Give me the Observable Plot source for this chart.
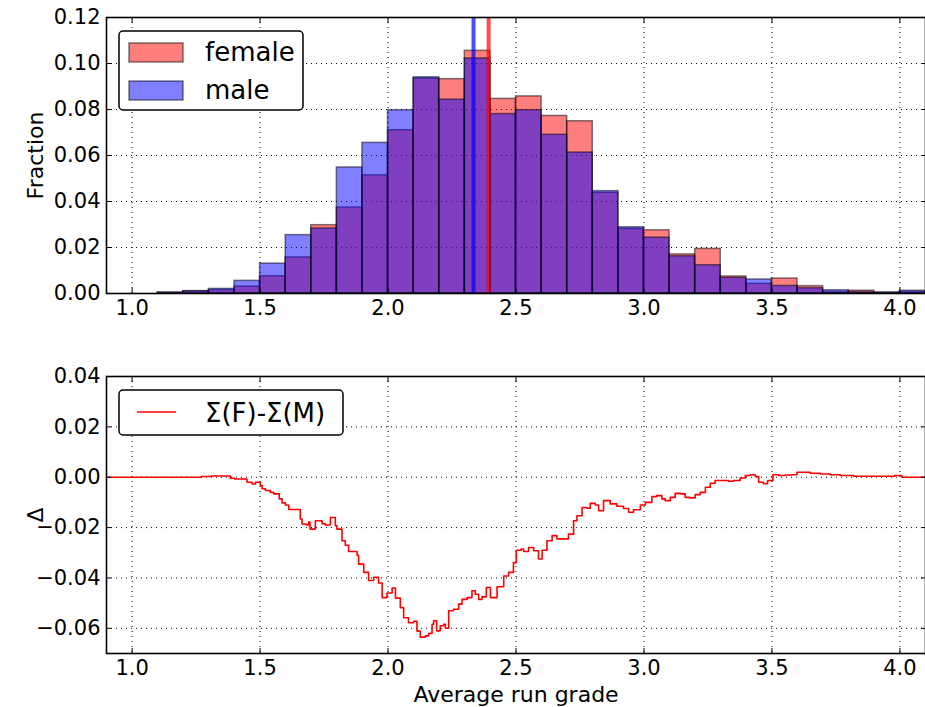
<!DOCTYPE html>
<html><head><meta charset="utf-8">
<script src="https://cdn.jsdelivr.net/npm/d3@7"></script>
<script src="https://cdn.jsdelivr.net/npm/@observablehq/plot@0.6"></script>
<style>
body{margin:0;background:#fff;font-family:"DejaVu Sans",sans-serif;}
#fig{position:relative;width:925px;height:707px;overflow:hidden;background:#fff;}
#fig svg.plot{display:block;}
#fig svg.plot g[aria-label$="axis label"] text{font-size:22px;}
.leg{position:absolute;overflow:visible;}
</style></head><body><div id="fig"></div><script>
// ---- data ----
const binStart = [1.1,1.2,1.3,1.4,1.5,1.6,1.7,1.8,1.9,2.0,2.1,2.2,2.3,2.4,2.5,2.6,2.7,2.8,2.9,3.0,3.1,3.2,3.3,3.4,3.5,3.6,3.7,3.8,3.9,4.0];
const binWidth = 0.1;
const female = [0.0004,0.001,0.0015,0.003,0.0075,0.0157,0.0297,0.0374,0.0514,0.071,0.0935,0.0932,0.1055,0.0846,0.0857,0.0772,0.0749,0.0438,0.0281,0.0275,0.017,0.0194,0.0074,0.0042,0.0065,0.0032,0.0006,0.0012,0.0004,0.0006];
const male   = [0.0004,0.001,0.002,0.0055,0.013,0.0254,0.0283,0.0548,0.0655,0.0797,0.094,0.0843,0.1022,0.078,0.0797,0.069,0.0613,0.0445,0.0288,0.0243,0.0162,0.0123,0.0068,0.0061,0.0033,0.0023,0.0014,0.0006,0.0004,0.0012];
const meanFemale = 2.393;
const meanMale = 2.334;
const gradeX = [0.9,1.27,1.31,1.384,1.40,1.449,1.469,1.482,1.501,1.508,1.521,1.54,1.553,1.575,1.586,1.599,1.612,1.657,1.664,1.681,1.69,1.695,1.716,1.742,1.755,1.775,1.794,1.80,1.82,1.833,1.846,1.879,1.885,1.905,1.924,1.944,1.963,1.977,1.996,2.016,2.029,2.048,2.061,2.08,2.10,2.113,2.126,2.146,2.159,2.172,2.178,2.19,2.204,2.217,2.224,2.237,2.256,2.276,2.289,2.309,2.328,2.341,2.354,2.367,2.384,2.40,2.426,2.452,2.471,2.49,2.501,2.52,2.53,2.549,2.569,2.588,2.602,2.621,2.641,2.66,2.686,2.705,2.725,2.738,2.758,2.777,2.79,2.81,2.823,2.842,2.868,2.894,2.92,2.94,2.959,2.986,3.005,3.031,3.05,3.07,3.083,3.103,3.122,3.142,3.161,3.18,3.2,3.22,3.24,3.259,3.278,3.305,3.33,3.35,3.376,3.396,3.415,3.435,3.448,3.467,3.483,3.504,3.526,3.552,3.578,3.598,3.63,3.65,3.689,3.728,3.767,3.819,3.897,3.98,4.008,4.1];
const delta = [0,0.0003,0.0005,-0.0004,-0.0007,-0.002,-0.0027,-0.002,-0.0033,-0.0046,-0.0053,-0.006,-0.0066,-0.0086,-0.0102,-0.011,-0.0128,-0.0166,-0.0186,-0.019,-0.0178,-0.0206,-0.0173,-0.0185,-0.019,-0.016,-0.0192,-0.0206,-0.0252,-0.027,-0.0295,-0.031,-0.0345,-0.0378,-0.041,-0.0397,-0.042,-0.0478,-0.046,-0.044,-0.048,-0.0518,-0.0558,-0.0578,-0.0572,-0.0611,-0.0635,-0.063,-0.062,-0.0584,-0.057,-0.061,-0.059,-0.0584,-0.060,-0.053,-0.0524,-0.0504,-0.0485,-0.0478,-0.0451,-0.0465,-0.0485,-0.0475,-0.0438,-0.0478,-0.0435,-0.0392,-0.0378,-0.0339,-0.029,-0.0285,-0.0295,-0.0279,-0.0292,-0.0325,-0.029,-0.0252,-0.0232,-0.0245,-0.0245,-0.0226,-0.0173,-0.0153,-0.012,-0.0123,-0.0104,-0.011,-0.0133,-0.0093,-0.0106,-0.0115,-0.0124,-0.0139,-0.0129,-0.011,-0.010,-0.0077,-0.0073,-0.0086,-0.0093,-0.008,-0.0064,-0.0066,-0.008,-0.0082,-0.0069,-0.006,-0.004,-0.0024,-0.0013,-0.0013,-0.0016,-0.0013,-0.0003,0.0007,0.001,0.0003,-0.002,-0.0026,-0.0013,0.001,0.0007,0.0009,0.001,0.002,0.002,0.0016,0.0013,0.001,0.0007,0.0004,0.0004,0.0007,0,-0.0002];
const xTicks = [1.0,1.5,2.0,2.5,3.0,3.5,4.0];
const fracTicks = [0,0.02,0.04,0.06,0.08,0.10,0.12];
const deltaTicks = [-0.06,-0.04,-0.02,0,0.02,0.04];
const xDomain = [0.9,4.1];

// ---- build ----
const rows = binStart.map((b,i)=>({x1:b, x2:b+binWidth, f:female[i], m:male[i]}));
const line = gradeX.map((x,i)=>({x, d:delta[i]}));
const f1 = d3.format(".1f"), f2 = d3.format(".2f");
const none = () => "";
const grid = {stroke:"#000", strokeOpacity:1, strokeWidth:1, strokeDasharray:"1,4"};
const style = {fontFamily:"'DejaVu Sans', sans-serif", fontSize:"21px", background:"white", overflow:"visible", color:"#000"};

function frameAxes(yTicks, yFmt, yLabel, xLabel, yLabelOffset) {
  return [
    Plot.axisX({ticks:xTicks, tickFormat:f1, tickSize:-5, tickPadding:12, label: xLabel, labelAnchor:"center", labelArrow:"none", labelOffset:48, stroke:"#000"}),
    Plot.axisX({anchor:"top", ticks:xTicks, tickFormat:none, tickSize:-5, label:null}),
    Plot.axisY({ticks:yTicks, tickFormat:yFmt, tickSize:-5, tickPadding:11, label:yLabel, labelAnchor:"center", labelArrow:"none", labelOffset:yLabelOffset}),
    Plot.axisY({anchor:"right", ticks:yTicks, tickFormat:none, tickSize:-5, label:null}),
    Plot.frame({stroke:"#000", strokeWidth:1.6})
  ];
}

const topPlot = Plot.plot({
  width:925, height:320, marginLeft:106, marginRight:0, marginTop:17, marginBottom:27,
  style,
  x:{domain:xDomain}, y:{domain:[0,0.12]},
  marks:[
    Plot.gridX(xTicks, grid),
    Plot.gridY(fracTicks, grid),
    Plot.rectY(rows,{x1:"x1", x2:"x2", y:"f", fill:"#ff0000", fillOpacity:0.5, stroke:"#000", strokeOpacity:0.5, strokeWidth:1.5}),
    Plot.rectY(rows,{x1:"x1", x2:"x2", y:"m", fill:"#0000ff", fillOpacity:0.5, stroke:"#000", strokeOpacity:0.5, strokeWidth:1.5}),
    Plot.ruleX([meanMale],{stroke:"#0000ff", strokeOpacity:0.7, strokeWidth:4}),
    Plot.ruleX([meanFemale],{stroke:"#ff0000", strokeOpacity:0.7, strokeWidth:4}),
    ...frameAxes(fracTicks, f2, "Fraction", null, 79)
  ]
});

const botPlot = Plot.plot({
  width:925, height:387, marginLeft:106, marginRight:0, marginTop:56, marginBottom:54,
  style,
  x:{domain:xDomain}, y:{domain:[-0.07,0.04]},
  marks:[
    Plot.gridX(xTicks, grid),
    Plot.gridY(deltaTicks, grid),
    Plot.line(line,{x:"x", y:"d", curve:"step-after", stroke:"#ff0000", strokeWidth:1.6}),
    ...frameAxes(deltaTicks, f2, "Δ", "Average run grade", 79)
  ]
});

const fig = document.getElementById("fig");
topPlot.classList.add("plot"); botPlot.classList.add("plot");
fig.appendChild(topPlot);
fig.appendChild(botPlot);

const NS = "http://www.w3.org/2000/svg";
function el(tag, attrs, text){const e=document.createElementNS(NS,tag);for(const k in attrs)e.setAttribute(k,attrs[k]);if(text)e.textContent=text;return e;}
function legend(left, top, w, h){
  const s = el("svg",{width:w+2,height:h+2,class:"leg"});
  s.style.left=left+"px"; s.style.top=top+"px";
  s.appendChild(el("rect",{x:1,y:1,width:w,height:h,rx:4,fill:"#fff",stroke:"#000","stroke-width":1.5}));
  fig.appendChild(s); return s;
}
const legendFont = {"font-family":"DejaVu Sans, sans-serif","font-size":26,fill:"#000"};
const L1 = legend(118,30,184,79);
const seriesNames = ["female","male"], seriesColors = ["#ff0000","#0000ff"];
seriesNames.forEach((n,i)=>{
  L1.appendChild(el("rect",{x:11,y:13+i*38,width:54,height:19,fill:seriesColors[i],"fill-opacity":0.5,stroke:"#000","stroke-opacity":0.5,"stroke-width":1.5}));
  L1.appendChild(el("text",{x:87,y:31+i*38,...legendFont},n));
});
const L2 = legend(118,389,224,45);
L2.appendChild(el("line",{x1:19,x2:58,y1:23,y2:23,stroke:"#ff0000","stroke-width":1.6}));
L2.appendChild(el("text",{x:87,y:33,...legendFont},"Σ(F)-Σ(M)"));
</script></body></html>
